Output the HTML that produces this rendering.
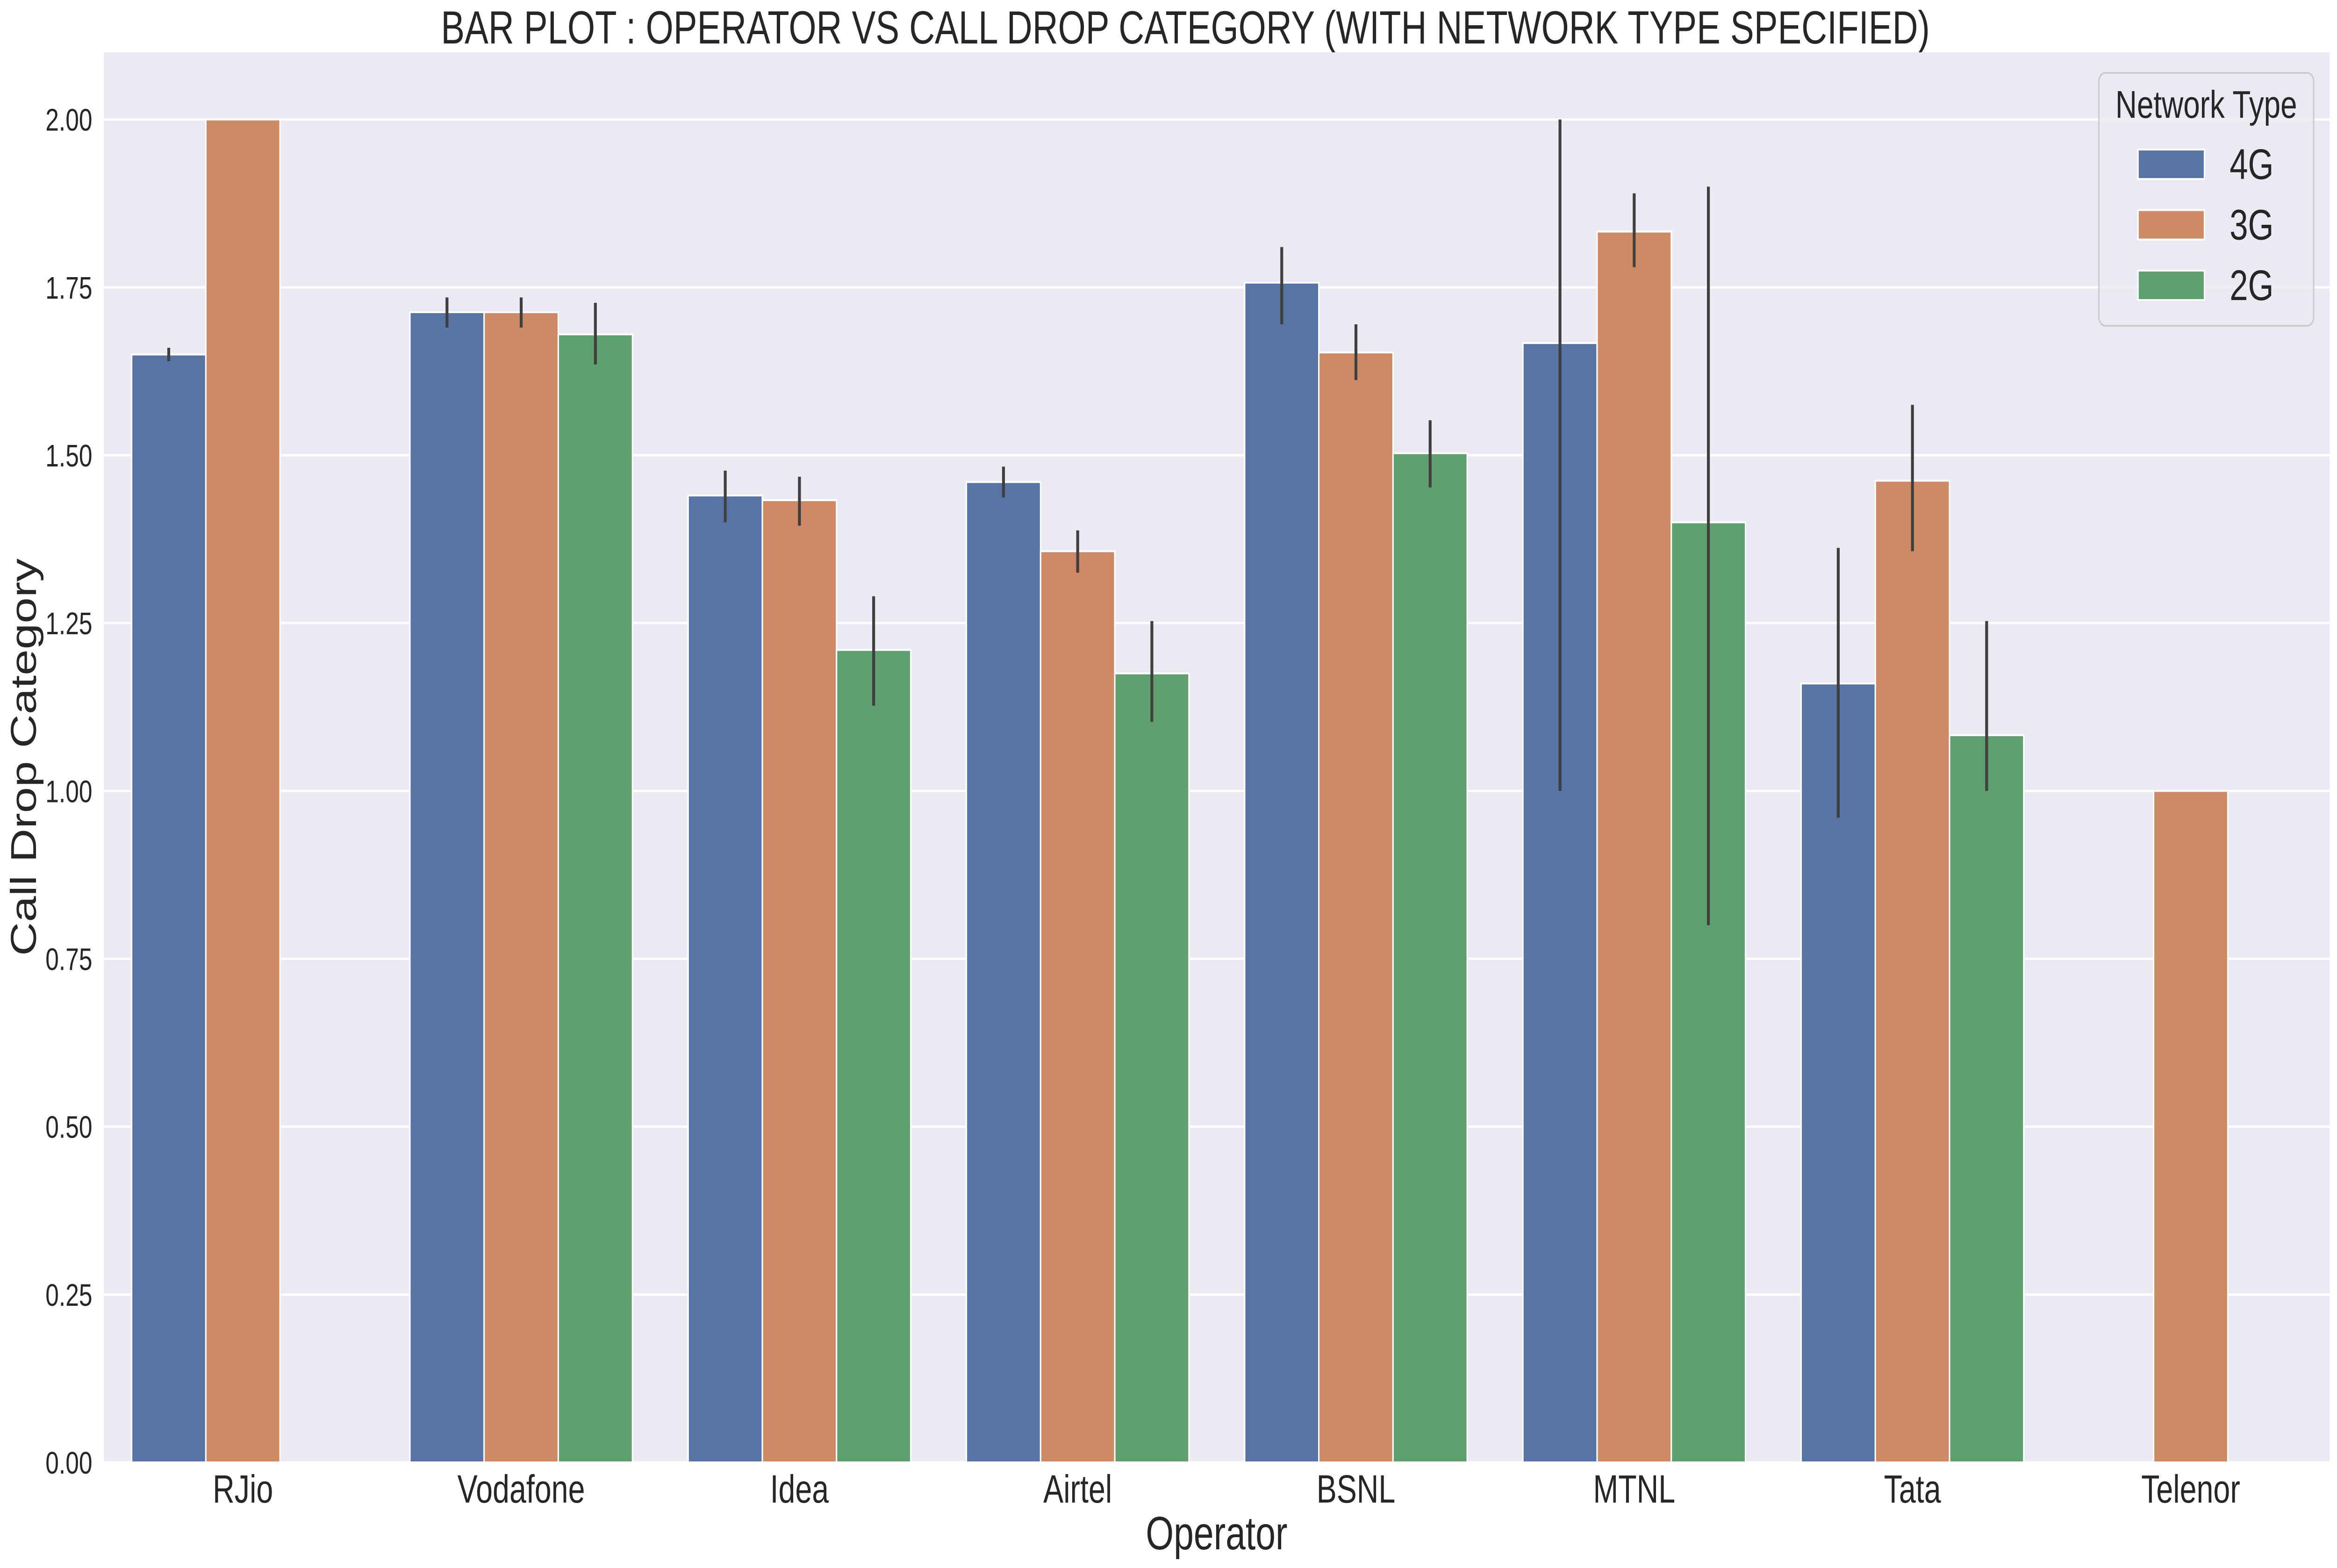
<!DOCTYPE html>
<html><head><meta charset="utf-8">
<meta name="viewport" content="width=6506, initial-scale=1">
<style>
html,body{margin:0;padding:0;background:#fff;width:100vw;height:100vh;overflow:hidden;}
svg{display:block;width:100vw;height:100vh;font-family:"Liberation Sans",Arial,sans-serif;}
</style></head>
<body>
<svg id="chart" viewBox="0 0 6506 3355" preserveAspectRatio="none">
<text x="3300" y="93" font-size="99" fill="#262626" text-anchor="middle">BAR PLOT : OPERATOR VS CALL DROP CATEGORY (WITH NETWORK TYPE SPECIFIED)</text>
<rect x="289" y="112" width="6197" height="3017" fill="#eaeaf2"/>
<g id="grid"></g>
<g id="bars"></g>
<g id="errs"></g>
<g id="yticks"></g>
<g id="xticks"></g>
<text x="3387" y="3315" font-size="100" fill="#262626" text-anchor="middle">Operator</text>
<text transform="translate(100,1620) rotate(-90)" font-size="100" fill="#262626" text-anchor="middle">Call Drop Category</text>
<g>
<rect x="5843" y="156" width="598" height="541" rx="18" fill="#eaeaf2" fill-opacity="0.8" stroke="#cccccc" stroke-width="4"/>
<text x="6142" y="252" font-size="83" fill="#262626" text-anchor="middle">Network Type</text>
<g id="legend-entries"></g>
</g>
</svg>
<script>
const categories = ["RJio","Vodafone","Idea","Airtel","BSNL","MTNL","Tata","Telenor"];
const seriesNames = ["4G","3G","2G"];
const seriesColors = ["#5874a4","#cd8a64","#5fa06e"];
const values4G = [1.65,1.713,1.44,1.46,1.757,1.667,1.16,null];
const values3G = [2.0,1.713,1.433,1.357,1.653,1.833,1.462,1.0];
const values2G = [null,1.68,1.21,1.175,1.503,1.4,1.083,null];
const errLow4G = [1.64,1.69,1.40,1.437,1.695,1.0,0.96,null];
const errHigh4G = [1.66,1.735,1.477,1.483,1.81,2.0,1.362,null];
const errLow3G = [null,1.69,1.395,1.325,1.612,1.78,1.357,null];
const errHigh3G = [null,1.735,1.468,1.388,1.695,1.89,1.575,null];
const errLow2G = [null,1.635,1.127,1.103,1.452,0.8,1.0,null];
const errHigh2G = [null,1.727,1.29,1.253,1.552,1.9,1.253,null];
const yTicks = [0,0.25,0.5,0.75,1.0,1.25,1.5,1.75,2.0];
const yTickLabels = ["0.00","0.25","0.50","0.75","1.00","1.25","1.50","1.75","2.00"];

const NS="http://www.w3.org/2000/svg";
const L=289,R=6486,T=112,B=3129,YMAX=2.1;
const catW=(R-L)/categories.length, barW=catW*0.8/3;
function yScale(v){return B-(v/YMAX)*(B-T);}
function xBar(ci,si){return L+catW*ci+catW*0.1+barW*si;}
function mk(tag,attrs,parent){const e=document.createElementNS(NS,tag);for(const k in attrs)e.setAttribute(k,attrs[k]);parent.appendChild(e);return e;}
const gGrid=document.getElementById('grid'),gBars=document.getElementById('bars'),gErr=document.getElementById('errs'),gY=document.getElementById('yticks'),gX=document.getElementById('xticks'),gLeg=document.getElementById('legend-entries');
yTicks.forEach((t,i)=>{
  const y=yScale(t);
  const ln=mk('line',{x1:L,x2:R,y1:y,y2:y,stroke:'#fff','stroke-width':5},gGrid);
  
  
  const tx=mk('text',{x:257,y:y+24,'font-size':67,fill:'#262626','text-anchor':'end'},gY);
  tx.textContent=yTickLabels[i];
  
  
});
const allVals=[values4G,values3G,values2G];
const allLow=[errLow4G,errLow3G,errLow2G];
const allHigh=[errHigh4G,errHigh3G,errHigh2G];
categories.forEach((c,ci)=>{
  for(let si=0;si<3;si++){
    const v=allVals[si][ci];
    if(v==null)continue;
    const x=xBar(ci,si),y=yScale(v);
    const r=mk('rect',{x:x,y:y,width:barW,height:B-y,fill:seriesColors[si],stroke:'#fff','stroke-width':4},gBars);
    
    
    const lo=allLow[si][ci],hi=allHigh[si][ci];
    if(lo!=null&&hi!=null){
      const cx=x+barW/2;
      const e=mk('line',{x1:cx,x2:cx,y1:yScale(lo),y2:yScale(hi),stroke:'#3f3f3f','stroke-width':8},gErr);
      
      
    }
  }
  const t=mk('text',{x:L+catW*(ci+0.5),y:3215,'font-size':84,fill:'#262626','text-anchor':'middle'},gX);
  t.textContent=c;
  
  
});
seriesNames.forEach((s,i)=>{
  const y0=320+i*129.5;
  const p=mk('rect',{x:5952,y:y0,width:185,height:63,fill:seriesColors[i],stroke:'#fff','stroke-width':4},gLeg);
  
  
  const t=mk('text',{x:6207,y:y0+63,'font-size':92,fill:'#262626'},gLeg);
  t.textContent=s;
  
  
});
</script>
</body></html>
